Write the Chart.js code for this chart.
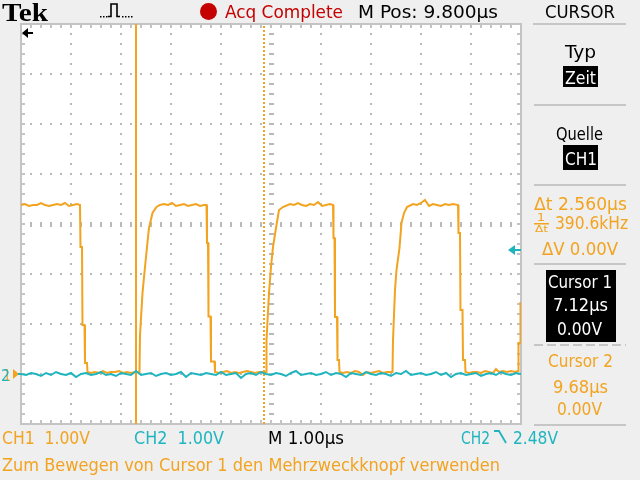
<!DOCTYPE html>
<html><head><meta charset="utf-8">
<script src="https://cdn.jsdelivr.net/npm/chart.js@4"></script>
<style>
html,body{margin:0;padding:0;background:#efefef;}
#wrap{position:relative;width:640px;height:480px;overflow:hidden;background:#efefef;}
#c{position:absolute;left:0;top:0;}
#ov{position:absolute;left:0;top:0;pointer-events:none;}
#ov text{font-family:"Liberation Sans Narrow","DejaVu Sans Condensed","Arial Narrow","Liberation Sans",sans-serif;font-size:18px;}
</style></head><body>
<div id="wrap">
<canvas id="c" width="640" height="480"></canvas>
<svg id="ov" width="640" height="480" xmlns="http://www.w3.org/2000/svg">
  <!-- top status line -->
  <text x="2" y="21" textLength="46" lengthAdjust="spacingAndGlyphs" style="font-family:'Liberation Serif','DejaVu Serif',serif;font-weight:bold;font-size:26px" fill="#000">Tek</text>
  <g fill="#000">
    <rect x="100" y="16" width="1.5" height="1.5"/><rect x="103" y="16" width="1.5" height="1.5"/><rect x="106" y="16" width="1.5" height="1.5"/>
    <rect x="122" y="16" width="1.5" height="1.5"/><rect x="125" y="16" width="1.5" height="1.5"/><rect x="128" y="16" width="1.5" height="1.5"/><rect x="131" y="16" width="1.5" height="1.5"/>
  </g>
  <path d="M108 16.5 H111 V4 H117 V16.5 H120" stroke="#000" stroke-width="1.6" fill="none"/>
  <circle cx="208.5" cy="11.5" r="8.5" fill="#c40000"/>
  <text x="225" y="18" textLength="118" lengthAdjust="spacingAndGlyphs" fill="#c40000">Acq Complete</text>
  <text x="358" y="18" textLength="140" lengthAdjust="spacingAndGlyphs" fill="#000">M Pos: 9.800µs</text>
  <text x="545" y="18" textLength="70" lengthAdjust="spacingAndGlyphs" fill="#000">CURSOR</text>
  <rect x="533" y="23" width="93" height="2" fill="#c6c6c6"/>

  <!-- side menu -->
  <text x="565" y="58" textLength="31" lengthAdjust="spacingAndGlyphs" fill="#000">Typ</text>
  <rect x="563" y="66" width="35" height="21" fill="#000"/>
  <text x="565" y="84" textLength="31" lengthAdjust="spacingAndGlyphs" fill="#fff">Zeit</text>
  <rect x="534" y="104" width="92" height="2" fill="#c6c6c6"/>
  <text x="556" y="140" textLength="47" lengthAdjust="spacingAndGlyphs" fill="#000">Quelle</text>
  <rect x="563" y="145" width="35" height="25" fill="#000"/>
  <text x="565" y="165" textLength="32" lengthAdjust="spacingAndGlyphs" fill="#fff">CH1</text>
  <rect x="534" y="184" width="92" height="2" fill="#c6c6c6"/>

  <text id="dt" x="534" y="210" textLength="93" lengthAdjust="spacingAndGlyphs" fill="#f2a31f">Δt 2.560µs</text>
  <text x="537" y="221" textLength="8" lengthAdjust="spacingAndGlyphs" fill="#f2a31f" style="font-size:10px">1</text>
  <rect x="534" y="223" width="15" height="1.5" fill="#f2a31f"/>
  <text x="535" y="232" textLength="13" lengthAdjust="spacingAndGlyphs" fill="#f2a31f" style="font-size:9px">Δt</text>
  <text id="fr" x="555" y="229" textLength="73" lengthAdjust="spacingAndGlyphs" fill="#f2a31f">390.6kHz</text>
  <text x="542" y="255" textLength="76" lengthAdjust="spacingAndGlyphs" fill="#f2a31f">ΔV 0.00V</text>
  <rect x="534" y="263" width="92" height="2" fill="#c6c6c6"/>

  <rect x="546" y="270" width="70" height="72" fill="#000"/>
  <text x="548" y="288" textLength="64" lengthAdjust="spacingAndGlyphs" fill="#fff">Cursor 1</text>
  <text id="c1t" x="553" y="311" textLength="55" lengthAdjust="spacingAndGlyphs" fill="#fff">7.12µs</text>
  <text x="557" y="335" textLength="45" lengthAdjust="spacingAndGlyphs" fill="#fff">0.00V</text>
  <line x1="534" y1="345" x2="626" y2="345" stroke="#c6c6c6" stroke-width="2" stroke-dasharray="9,4"/>
  <text x="548" y="367" textLength="65" lengthAdjust="spacingAndGlyphs" fill="#f2a31f">Cursor 2</text>
  <text id="c2t" x="553" y="393" textLength="55" lengthAdjust="spacingAndGlyphs" fill="#f2a31f">9.68µs</text>
  <text x="557" y="415" textLength="45" lengthAdjust="spacingAndGlyphs" fill="#f2a31f">0.00V</text>
  <rect x="534" y="424" width="92" height="2" fill="#c6c6c6"/>

  <!-- bottom status -->
  <text x="2" y="444" textLength="88" lengthAdjust="spacingAndGlyphs" fill="#f2a31f" xml:space="preserve">CH1  1.00V</text>
  <text x="134" y="444" textLength="90" lengthAdjust="spacingAndGlyphs" fill="#1fb5bf" xml:space="preserve">CH2  1.00V</text>
  <text x="268" y="444" textLength="76" lengthAdjust="spacingAndGlyphs" fill="#000">M 1.00µs</text>
  <text x="461" y="444" textLength="29" lengthAdjust="spacingAndGlyphs" fill="#1fb5bf">CH2</text>
  <path d="M494 431 H499 L506 443" stroke="#1fb5bf" stroke-width="1.8" fill="none"/>
  <text x="513" y="444" textLength="45" lengthAdjust="spacingAndGlyphs" fill="#1fb5bf">2.48V</text>
  <text x="2" y="471" textLength="498" lengthAdjust="spacingAndGlyphs" fill="#f2a31f">Zum Bewegen von Cursor 1 den Mehrzweckknopf verwenden</text>

  <!-- ground reference labels -->
  <text x="3" y="381" textLength="8" lengthAdjust="spacingAndGlyphs" fill="#f2a31f" style="font-size:16px">1</text>
  <text x="1" y="381" textLength="9" lengthAdjust="spacingAndGlyphs" fill="#1fb5bf" style="font-size:16px">2</text>
</svg>
</div>
<script>
// ---- Data ----
// CH1 (orange): time in µs, voltage in V
const ch1Time = [
  4.82,4.90,4.98,5.06,5.14,5.22,5.30,5.38,5.46,5.54,5.62,5.70,5.78,5.86,5.94,6.00,
  6.01,6.04,6.05,6.09,6.10,6.14,6.15,
  6.22,6.30,6.38,6.46,6.54,6.62,6.70,6.78,6.86,6.94,7.02,7.10,7.19,
  7.20,7.25,7.30,7.34,7.38,7.45,7.53,7.60,
  7.68,7.76,7.84,7.92,8.00,8.08,8.16,8.24,8.32,8.40,8.48,8.53,
  8.54,8.56,8.57,8.61,8.62,8.69,8.70,
  8.78,8.86,8.94,9.02,9.10,9.18,9.26,9.34,9.42,9.50,9.58,9.66,9.72,
  9.73,9.78,9.82,9.86,9.92,9.98,10.06,10.20,
  10.28,10.36,10.44,10.52,10.60,10.68,10.76,10.84,10.92,11.00,11.06,
  11.07,11.09,11.10,11.14,11.15,11.18,11.19,
  11.26,11.34,11.42,11.50,11.58,11.66,11.74,11.82,11.90,11.98,12.06,12.14,12.25,
  12.26,12.30,12.33,12.39,12.43,12.48,12.54,12.66,
  12.74,12.82,12.90,12.98,13.06,13.14,13.22,13.30,13.38,13.46,13.56,
  13.57,13.60,13.61,13.65,13.66,13.70,13.71,
  13.78,13.86,13.94,14.02,14.10,14.18,14.26,14.32,14.38,14.46,14.54,14.62,14.70,14.76,
  14.77,14.80,14.81,14.82
];
const ch1Volt = [
  3.38,3.40,3.36,3.38,3.38,3.42,3.38,3.36,3.38,3.40,3.38,3.42,3.36,3.38,3.40,3.38,
  2.54,2.54,0.98,0.98,0.22,0.22,0.04,
  0.02,0.04,0.02,0.06,0.02,0.04,0.04,0.06,0.02,0.04,0.02,0.04,0.04,
  0.78,1.62,2.14,2.54,2.92,3.22,3.34,3.38,
  3.40,3.38,3.42,3.36,3.38,3.40,3.36,3.38,3.40,3.36,3.38,3.38,
  2.62,2.62,1.15,1.15,0.25,0.25,0.04,
  0.02,0.04,0.06,0.02,0.04,0.02,0.04,0.06,0.04,0.02,0.04,0.04,0.04,
  0.68,1.62,2.14,2.54,2.92,3.28,3.34,3.40,
  3.38,3.42,3.38,3.36,3.40,3.38,3.44,3.36,3.38,3.40,3.38,
  2.72,2.72,1.14,1.14,0.28,0.28,0.04,
  0.02,0.04,0.02,0.06,0.04,-0.02,0.04,0.02,0.04,0.06,0.02,0.04,0.04,
  0.68,1.68,2.08,2.52,3.02,3.22,3.34,3.40,
  3.38,3.42,3.48,3.36,3.40,3.38,3.36,3.40,3.38,3.40,3.38,
  2.82,2.82,1.28,1.28,0.28,0.28,0.04,
  0.02,0.04,0.04,0.02,0.06,0.04,0.02,0.10,0.04,0.06,0.04,0.06,0.04,0.06,
  0.62,0.62,1.42,1.42
];
// CH2 (cyan): time in µs, voltage in V
const ch2Time = [
  4.82,4.92,5.02,5.12,5.22,5.32,5.42,5.52,5.62,5.72,
  5.82,5.92,6.02,6.12,6.22,6.32,6.42,6.52,6.62,6.72,
  6.82,6.92,7.02,7.12,7.22,7.32,7.42,7.52,7.62,7.72,
  7.82,7.92,8.02,8.12,8.22,8.32,8.42,8.52,8.62,8.72,
  8.82,8.92,9.02,9.12,9.22,9.32,9.42,9.52,9.62,9.72,
  9.82,9.92,10.02,10.12,10.22,10.32,10.42,10.52,10.62,10.72,
  10.82,10.92,11.02,11.12,11.22,11.32,11.42,11.52,11.62,11.72,
  11.82,11.92,12.02,12.12,12.22,12.32,12.42,12.52,12.62,12.72,
  12.82,12.92,13.02,13.12,13.22,13.32,13.42,13.52,13.62,13.72,
  13.82,13.92,14.02,14.12,14.22,14.32,14.42,14.52,14.62,14.72,
  14.82
];
const ch2Volt = [
  0.00,-0.02,0.02,0.00,-0.04,0.02,-0.02,0.04,0.00,-0.02,
  0.02,-0.06,0.00,0.02,-0.02,0.00,0.04,-0.02,0.00,-0.04,
  0.02,0.00,-0.02,0.06,-0.02,0.00,0.02,-0.04,0.00,0.02,
  -0.02,0.00,0.04,-0.06,0.02,0.00,-0.02,0.02,0.00,-0.02,
  0.04,-0.02,0.00,0.02,-0.08,0.00,0.02,-0.02,0.04,0.00,
  -0.02,0.02,0.00,-0.04,0.02,0.06,-0.02,0.00,0.02,-0.02,
  0.00,0.04,-0.02,0.02,0.00,-0.06,0.02,0.00,-0.02,0.04,
  0.00,-0.02,0.02,0.00,-0.04,0.02,0.00,0.06,-0.02,0.00,
  0.02,-0.02,0.00,0.04,-0.02,0.02,-0.06,0.00,0.02,-0.02,
  0.00,0.02,-0.04,0.00,0.02,-0.02,0.04,0.00,-0.02,0.02,
  0.00
];
const cursorTimes = [7.12, 9.68];   // µs
const triggerLevel = 2.48;           // V (CH2)
const timeRange = [4.82, 14.82];     // 10 div × 1.00 µs
const voltRange = [-1, 7];           // 8 div × 1.00 V, ground 1 div above bottom

const ORANGE = '#f2a31f', CYAN = '#1fb5bf';

const ch1 = ch1Time.map((t, i) => ({x: t, y: ch1Volt[i]}));
const ch2 = ch2Time.map((t, i) => ({x: t, y: ch2Volt[i]}));
const cur1 = [{x: cursorTimes[0], y: voltRange[0]}, {x: cursorTimes[0], y: voltRange[1]}];
const cur2 = [{x: cursorTimes[1], y: voltRange[0]}, {x: cursorTimes[1], y: voltRange[1]}];

const graticule = {
  id: 'graticule',
  beforeDatasetsDraw(chart) {
    const {ctx, chartArea: a, scales: {x, y}} = chart;
    ctx.save();
    ctx.fillStyle = '#ffffff';
    ctx.fillRect(a.left, a.top, a.right - a.left, a.bottom - a.top);
    const xMin = x.min, yMin = y.min;
    const nx = 10, ny = 8, sub = 5;
    const sx = (x.max - x.min) / (nx * sub), sy = (y.max - y.min) / (ny * sub);
    ctx.fillStyle = '#b9b9b9';
    // dotted major lines
    for (let i = 1; i < nx; i++) {
      if (i === nx / 2) continue;
      const px = Math.round(x.getPixelForValue(xMin + i * sub * sx));
      for (let j = 1; j < ny * sub; j++) {
        const py = Math.round(y.getPixelForValue(yMin + j * sy));
        ctx.fillRect(px - 1, py - 1, 2, 2);
      }
    }
    for (let j = 1; j < ny; j++) {
      if (j === ny / 2) continue;
      const py = Math.round(y.getPixelForValue(yMin + j * sub * sy));
      for (let i = 1; i < nx * sub; i++) {
        const px = Math.round(x.getPixelForValue(xMin + i * sx));
        ctx.fillRect(px - 1, py - 1, 2, 2);
      }
    }
    // center lines with ticks
    const cx = Math.round(x.getPixelForValue(xMin + (nx / 2) * sub * sx));
    const cy = Math.round(y.getPixelForValue(yMin + (ny / 2) * sub * sy));
    for (let i = 1; i < nx * sub; i++) {
      const px = Math.round(x.getPixelForValue(xMin + i * sx));
      ctx.fillRect(px - 1, cy - 2, 2, 5);
    }
    for (let j = 1; j < ny * sub; j++) {
      const py = Math.round(y.getPixelForValue(yMin + j * sy));
      ctx.fillRect(cx - 2, py - 1, 5, 2);
    }
    // border + ticks
    ctx.fillStyle = '#c4c4c4';
    ctx.fillRect(a.left - 1, a.top - 1, a.right - a.left + 2, 2);
    ctx.fillRect(a.left - 1, a.bottom - 1, a.right - a.left + 2, 2);
    ctx.fillRect(a.left - 1, a.top - 1, 2, a.bottom - a.top + 2);
    ctx.fillRect(a.right - 1, a.top - 1, 2, a.bottom - a.top + 2);
    for (let i = 1; i < nx * sub; i++) {
      const px = Math.round(x.getPixelForValue(xMin + i * sx));
      ctx.fillRect(px - 1, a.top, 2, 4);
      ctx.fillRect(px - 1, a.bottom - 4, 2, 4);
    }
    for (let j = 1; j < ny * sub; j++) {
      const py = Math.round(y.getPixelForValue(yMin + j * sy));
      ctx.fillRect(a.left, py - 1, 4, 2);
      ctx.fillRect(a.right - 4, py - 1, 4, 2);
    }
    ctx.restore();
  },
  afterDatasetsDraw(chart) {
    const {ctx, chartArea: a, scales: {x, y}} = chart;
    ctx.save();
    // horizontal position marker (top-left, pointing left)
    const ty = a.top + 9;
    ctx.fillStyle = '#000';
    ctx.beginPath();
    ctx.moveTo(a.left + 1, ty); ctx.lineTo(a.left + 7, ty - 5); ctx.lineTo(a.left + 7, ty + 5); ctx.closePath(); ctx.fill();
    ctx.fillRect(a.left + 6, ty - 1, 6, 2);
    // trigger level marker (right, CH2)
    const tl = Math.round(y.getPixelForValue(triggerLevel));
    ctx.fillStyle = CYAN;
    ctx.beginPath();
    ctx.moveTo(a.right - 13, tl); ctx.lineTo(a.right - 6, tl - 5); ctx.lineTo(a.right - 6, tl + 5); ctx.closePath(); ctx.fill();
    ctx.fillRect(a.right - 7, tl - 1, 7, 2);
    // ground marker (left)
    const g = Math.round(y.getPixelForValue(0));
    ctx.fillStyle = ORANGE;
    ctx.beginPath();
    ctx.moveTo(a.left - 8, g - 5); ctx.lineTo(a.left - 2, g); ctx.lineTo(a.left - 8, g + 5); ctx.closePath(); ctx.fill();
    ctx.fillStyle = CYAN;
    ctx.fillRect(a.left - 3, g - 1, 3, 2);
    ctx.restore();
  }
};

new Chart(document.getElementById('c'), {
  type: 'line',
  data: {
    datasets: [
      {label: 'CH2', data: ch2, borderColor: CYAN, borderWidth: 2, pointRadius: 0, tension: 0},
      {label: 'CH1', data: ch1, borderColor: ORANGE, borderWidth: 2, pointRadius: 0, tension: 0},
      {label: 'Cursor 1', data: cur1, borderColor: ORANGE, borderWidth: 2, pointRadius: 0},
      {label: 'Cursor 2', data: cur2, borderColor: ORANGE, borderWidth: 2, borderDash: [2, 2], pointRadius: 0}
    ]
  },
  options: {
    responsive: false,
    animation: false,
    devicePixelRatio: 1,
    layout: {padding: {left: 21, top: 24, right: 119, bottom: 56}},
    scales: {
      x: {type: 'linear', min: timeRange[0], max: timeRange[1], display: false},
      y: {type: 'linear', min: voltRange[0], max: voltRange[1], display: false}
    },
    plugins: {legend: {display: false}, tooltip: {enabled: false}}
  },
  plugins: [graticule]
});
</script>
</body></html>
